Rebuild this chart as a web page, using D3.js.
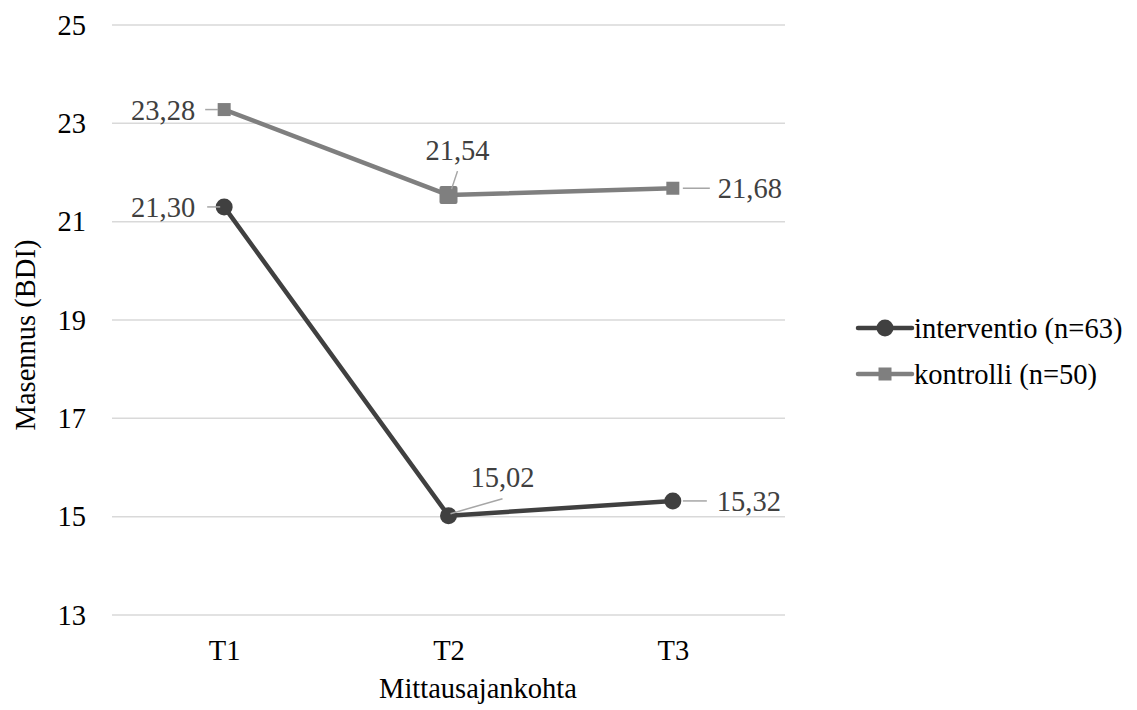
<!DOCTYPE html>
<html><head><meta charset="utf-8">
<script src="https://cdn.jsdelivr.net/npm/d3@7"></script>
<style>body{margin:0;background:#fff} svg text{font-family:'Liberation Serif', 'Times New Roman', Times, serif !important;}</style>
</head><body>
<svg id="c" width="1137" height="710" font-family="Liberation Serif, serif"></svg>
<script>
const categories = ["T1","T2","T3"];
const interventio = [21.30, 15.02, 15.32];
const kontrolli = [23.28, 21.54, 21.68];
const seriesNames = ["interventio (n=63)", "kontrolli (n=50)"];
const yTicks = [13,15,17,19,21,23,25];

const svg = d3.select("#c");
const plot = {l:112, r:785, t:25, b:615};
const fs = 28.5;
const FF = "'Liberation Serif', 'Times New Roman', Times, serif";

const x = d3.scalePoint().domain(categories).range([plot.l, plot.r]).padding(0.5);
const y = d3.scaleLinear().domain([13,25]).range([plot.b, plot.t]);

svg.append("g").selectAll("line").data(yTicks).join("line")
  .attr("x1", plot.l).attr("x2", plot.r)
  .attr("y1", d=>y(d)).attr("y2", d=>y(d))
  .attr("stroke","#d9d9d9").attr("stroke-width",1.5);

const yAxis = d3.axisLeft(y).tickValues(yTicks).tickSize(0).tickPadding(26).tickFormat(d3.format("d"));
const gy = svg.append("g").attr("transform",`translate(${plot.l},0)`).call(yAxis).attr("font-family",FF);
gy.select(".domain").remove();
gy.selectAll("text").attr("font-size",fs).attr("fill","#000");

const xAxis = d3.axisBottom(x).tickSize(0).tickPadding(25);
const gx = svg.append("g").attr("transform",`translate(0,${plot.b})`).call(xAxis).attr("font-family",FF);
gx.select(".domain").remove();
gx.selectAll("text").attr("font-size",fs).attr("fill","#000");

svg.append("text").attr("x",478).attr("y",698).attr("text-anchor","middle")
  .attr("font-size",fs).attr("fill","#000").text("Mittausajankohta");
svg.append("text").attr("transform",`translate(35,335) rotate(-90)`)
  .attr("text-anchor","middle").attr("font-size",fs).attr("fill","#000").text("Masennus (BDI)");

const colors = ["#404040","#7f7f7f"];
const allSeries = [interventio, kontrolli];
const line = d3.line().x((d,i)=>x(categories[i])).y(d=>y(d));

const fmt = v => d3.format(".2f")(v).replace(".", ",");
const labelCfg = [
  [ {lx1:-17,ly1:0,lx2:-4,ly2:0,tx:-29,ty:0,a:"end"},
    {lx1:2,ly1:-2,lx2:54,ly2:-17,tx:54,ty:-39,a:"middle"},
    {lx1:10,ly1:0,lx2:34,ly2:0,tx:44,ty:0,a:"start"} ],
  [ {lx1:-19,ly1:0,lx2:-6,ly2:0,tx:-29,ty:0,a:"end"},
    {lx1:3,ly1:-6,lx2:9,ly2:-24,tx:9,ty:-45,a:"middle"},
    {lx1:10,ly1:0,lx2:37,ly2:0,tx:45,ty:0,a:"start"} ]
];

allSeries.forEach((vals,si)=>{
  svg.append("path").datum(vals).attr("d",line).attr("fill","none")
    .attr("stroke",colors[si]).attr("stroke-width",4.5).attr("stroke-linejoin","round");
});
allSeries.forEach((vals,si)=>{
  const g = svg.append("g");
  if(si===0){
    g.selectAll("circle").data(vals).join("circle")
      .attr("cx",(d,i)=>x(categories[i])).attr("cy",d=>y(d)).attr("r",8.5).attr("fill",colors[si]);
  } else {
    g.selectAll("rect").data(vals).join("rect")
      .attr("x",(d,i)=>x(categories[i])-(i===1?9:6.5)).attr("y",(d,i)=>y(d)-(i===1?9:6.5))
      .attr("width",(d,i)=>i===1?18:13).attr("height",(d,i)=>i===1?18:13)
      .attr("rx",(d,i)=>i===1?2:0).attr("fill",colors[si]);
  }
  vals.forEach((v,i)=>{
    const c = labelCfg[si][i], px = x(categories[i]), py = y(v);
    svg.append("line").attr("x1",px+c.lx1).attr("y1",py+c.ly1).attr("x2",px+c.lx2).attr("y2",py+c.ly2)
      .attr("stroke","#a6a6a6").attr("stroke-width",1.5);
    svg.append("text").attr("x",px+c.tx).attr("y",py+c.ty).attr("dy","0.35em")
      .attr("text-anchor",c.a).attr("font-size",fs).attr("fill","#404040").text(fmt(v));
  });
});

const legY = [328, 374];
seriesNames.forEach((n,si)=>{
  const g = svg.append("g");
  g.append("line").attr("x1",858).attr("x2",912).attr("y1",legY[si]).attr("y2",legY[si])
    .attr("stroke",colors[si]).attr("stroke-width",4.5).attr("stroke-linecap","round");
  if(si===0) g.append("circle").attr("cx",885).attr("cy",legY[si]).attr("r",8.5).attr("fill",colors[si]);
  else g.append("rect").attr("x",878.5).attr("y",legY[si]-6.5).attr("width",13).attr("height",13).attr("fill",colors[si]);
  g.append("text").attr("x",914).attr("y",legY[si]).attr("dy","0.35em").attr("font-size",fs).attr("fill","#000").text(n);
});
</script>
</body></html>
